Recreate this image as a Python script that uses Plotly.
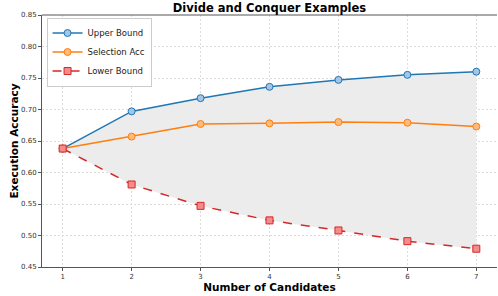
import plotly.graph_objects as go

candidates = [1, 2, 3, 4, 5, 6, 7]
upper_bound = [0.638, 0.697, 0.718, 0.736, 0.747, 0.755, 0.760]
selection_acc = [0.638, 0.657, 0.677, 0.678, 0.680, 0.679, 0.673]
lower_bound = [0.638, 0.581, 0.547, 0.524, 0.508, 0.491, 0.479]
y_ticks = [0.45, 0.50, 0.55, 0.60, 0.65, 0.70, 0.75, 0.80, 0.85]

FONT = "DejaVu Sans"
fig = go.Figure()

# shaded region between bounds
fig.add_trace(go.Scatter(x=candidates, y=upper_bound, mode="lines",
                         line=dict(width=0, color="rgba(0,0,0,0)"),
                         showlegend=False, hoverinfo="skip"))
fig.add_trace(go.Scatter(x=candidates, y=lower_bound, mode="lines",
                         line=dict(width=0, color="rgba(0,0,0,0)"),
                         fill="tonexty", fillcolor="#ececec",
                         showlegend=False, hoverinfo="skip"))

fig.add_trace(go.Scatter(x=candidates, y=upper_bound, mode="lines+markers",
                         name="Upper Bound",
                         line=dict(color="#1f77b4", width=1.5),
                         marker=dict(symbol="circle", size=7, color="#a3c6e6",
                                     line=dict(color="#1f77b4", width=1))))
fig.add_trace(go.Scatter(x=candidates, y=selection_acc, mode="lines+markers",
                         name="Selection Acc",
                         line=dict(color="#ff7f0e", width=1.5),
                         marker=dict(symbol="circle", size=7, color="#ffba78",
                                     line=dict(color="#ff7f0e", width=1))))
fig.add_trace(go.Scatter(x=candidates, y=lower_bound, mode="lines+markers",
                         name="Lower Bound",
                         line=dict(color="#d62728", width=1.5, dash="dash"),
                         marker=dict(symbol="square", size=7, color="#f58b8b",
                                     line=dict(color="#d62728", width=1))))

fig.update_layout(
    width=498, height=296,
    margin=dict(l=42, r=1, t=15, b=29),
    paper_bgcolor="white", plot_bgcolor="white",
    font=dict(family=FONT, color="#222"),
    title=dict(text="<b>Divide and Conquer Examples</b>", x=0.5, xanchor="center",
               xref="paper", y=0.972, yref="container", yanchor="middle",
               font=dict(size=11.5, color="black"), automargin=False),
    legend=dict(x=0.01, y=0.99, xanchor="left", yanchor="top", traceorder="normal",
                bgcolor="rgba(255,255,255,0.9)", bordercolor="#cccccc", borderwidth=1,
                font=dict(size=8.5, color="#222"), tracegroupgap=0, itemwidth=30),
    showlegend=True,
)
fig.update_xaxes(
    range=[0.7, 7.3], tickvals=candidates, ticktext=[str(c) for c in candidates],
    tickfont=dict(size=7, color="#333"), ticks="outside", ticklen=3, tickcolor="#555",
    showline=True, linecolor="#555", linewidth=1, mirror=False, automargin=False,
    showgrid=True, gridcolor="#dcdcdc", griddash="2px,2px", gridwidth=0.7,
    zeroline=False,
    title=dict(text="<b>Number of Candidates</b>", font=dict(size=10.5, color="black"), standoff=2),
)
fig.update_yaxes(
    range=[0.45, 0.85], tickvals=y_ticks, ticktext=[f"{v:.2f}" for v in y_ticks],
    tickfont=dict(size=7, color="#333"), ticks="outside", ticklen=3, tickcolor="#555",
    showline=True, linecolor="#555", linewidth=1, mirror=False, automargin=False,
    showgrid=True, gridcolor="#dcdcdc", griddash="2px,2px", gridwidth=0.7,
    zeroline=False,
    title=dict(text="<b>Execution Accuracy</b>", font=dict(size=10.5, color="black"), standoff=0),
)
# top spine
fig.add_shape(type="line", xref="paper", yref="paper", x0=0, x1=1, y0=1, y1=1,
              line=dict(color="#555", width=1))

fig.write_html("out.html", config={"displayModeBar": False},
               post_script="document.body.style.margin='0';")
